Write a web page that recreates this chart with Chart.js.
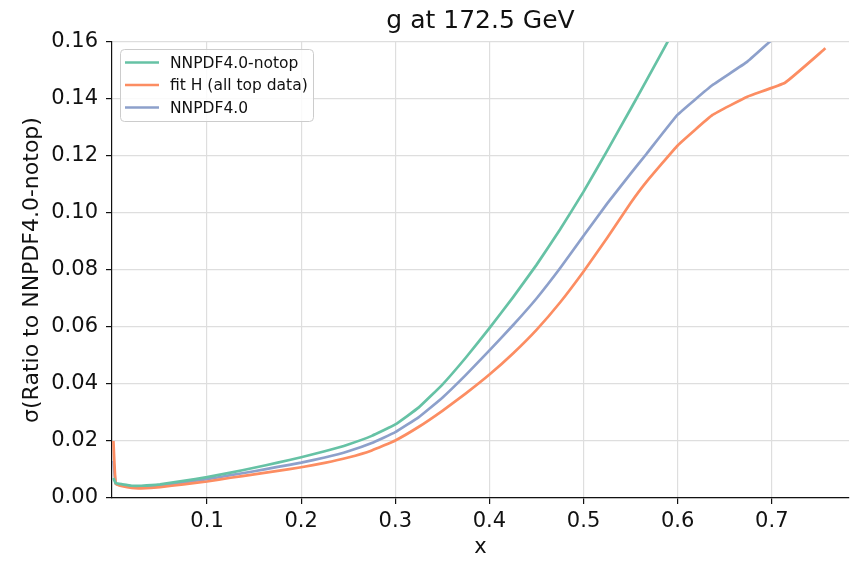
<!DOCTYPE html>
<html>
<head>
<meta charset="utf-8">
<title>g at 172.5 GeV</title>
<script src="https://cdn.jsdelivr.net/npm/chart.js@4/dist/chart.umd.min.js"></script>
<style>
  html, body { margin: 0; padding: 0; background: #fff; }
  #wrap { width: 850px; height: 562px; }
</style>
</head>
<body>
<div id="wrap"><canvas id="sigma"></canvas></div>
<script>
// x grid shared by all three fits
const xs = [0.0005, 0.003, 0.01, 0.02, 0.03, 0.05, 0.075, 0.1, 0.125, 0.15, 0.175, 0.2,
    0.225, 0.25, 0.275, 0.3, 0.325, 0.35, 0.375, 0.4, 0.425, 0.45, 0.475, 0.5,
    0.525, 0.55, 0.567, 0.6, 0.637, 0.674, 0.714, 0.757];

// sigma of the ratio to NNPDF4.0-notop
const notop = [0.007, 0.0052, 0.0048, 0.0043, 0.0043, 0.0048, 0.006, 0.0073, 0.0089, 0.0106, 0.0124, 0.0143,
    0.0164, 0.0188, 0.0218, 0.0258, 0.0318, 0.0398, 0.0493, 0.0596, 0.0704, 0.0818, 0.0942, 0.1075,
    0.1218, 0.1365, 0.1466, 0.1665, 0.188, 0.207, 0.227, 0.247];
const fitH = [0.02, 0.0049, 0.0041, 0.0035, 0.0034, 0.0038, 0.0048, 0.0058, 0.0071, 0.0083, 0.0095, 0.0108,
    0.0123, 0.0142, 0.0167, 0.0202, 0.025, 0.0306, 0.0367, 0.0433, 0.0507, 0.059, 0.0686, 0.0795,
    0.0912, 0.1035, 0.111, 0.1237, 0.1344, 0.1408, 0.1457, 0.1578];
const nnpdf40 = [0.013, 0.005, 0.0045, 0.0039, 0.0039, 0.0044, 0.0055, 0.0066, 0.008, 0.0094, 0.0109, 0.0124,
    0.0142, 0.0164, 0.0193, 0.0231, 0.0284, 0.0352, 0.0432, 0.0518, 0.0606, 0.07, 0.0806, 0.092,
    0.1033, 0.1138, 0.1208, 0.1345, 0.1449, 0.1531, 0.165, 0.18];

const xTicks = [0.1, 0.2, 0.3, 0.4, 0.5, 0.6, 0.7];

const FONT = "'DejaVu Sans', sans-serif";
const GRID = '#dedede';

const toPoints = ys => xs.map((x, i) => ({ x, y: ys[i] }));

const series = [
    { label: 'NNPDF4.0-notop', data: toPoints(notop), color: '#66c2a5' },
    { label: 'fit H (all top data)', data: toPoints(fitH), color: '#fc8d62' },
    { label: 'NNPDF4.0', data: toPoints(nnpdf40), color: '#8da0cb' }
];

// boxed legend in the upper left corner of the plot
const boxLegend = {
    id: 'boxLegend',
    afterDatasetsDraw(chart) {
        const { ctx, chartArea } = chart;
        const x0 = chartArea.left + 8, y0 = chartArea.top + 7;
        const w = 193, h = 72;
        ctx.save();
        ctx.beginPath();
        ctx.roundRect(x0 + 0.5, y0 + 0.5, w, h, 4);
        ctx.fillStyle = 'rgba(255,255,255,0.85)';
        ctx.fill();
        ctx.strokeStyle = '#cccccc';
        ctx.lineWidth = 1;
        ctx.stroke();
        ctx.font = '15.5px ' + FONT;
        ctx.textBaseline = 'middle';
        chart.data.datasets.forEach((ds, i) => {
            const y = y0 + 13.5 + i * 22.5;
            ctx.strokeStyle = ds.borderColor;
            ctx.lineWidth = 2.6;
            ctx.beginPath();
            ctx.moveTo(x0 + 5, y);
            ctx.lineTo(x0 + 39, y);
            ctx.stroke();
            ctx.fillStyle = '#111';
            ctx.fillText(ds.label, x0 + 50, y + 1);
        });
        ctx.restore();
    }
};

new Chart(document.getElementById('sigma'), {
    type: 'line',
    data: {
        datasets: series.map(s => ({
            label: s.label,
            data: s.data,
            borderColor: s.color,
            backgroundColor: s.color,
            borderWidth: 2.7,
            pointRadius: 0,
            tension: 0.1
        }))
    },
    options: {
        responsive: true,
        maintainAspectRatio: false,
        animation: false,
        layout: { padding: { left: 0, right: 1, top: 0, bottom: 0 } },
        plugins: {
            legend: { display: false },
            tooltip: { enabled: false },
            title: {
                display: true,
                text: 'g at 172.5 GeV',
                fullSize: false,
                color: '#111',
                font: { family: FONT, size: 25, weight: 'normal' },
                padding: { top: 6, bottom: 6 }
            }
        },
        scales: {
            x: {
                type: 'linear',
                min: -0.001,
                max: 0.782,
                afterBuildTicks: axis => { axis.ticks = xTicks.map(v => ({ value: v })); },
                afterFit: axis => { axis.height = 64; },
                ticks: {
                    color: '#111',
                    padding: 5,
                    font: { family: FONT, size: 21 },
                    callback: v => v.toFixed(1)
                },
                grid: { color: GRID, lineWidth: 1.2, tickColor: '#111', tickLength: 6 },
                border: { color: '#111', width: 1.2 },
                title: {
                    display: true,
                    text: 'x',
                    color: '#111',
                    font: { family: FONT, size: 21 },
                    padding: { top: 0, bottom: 2 }
                }
            },
            y: {
                min: 0,
                max: 0.16,
                afterFit: axis => { axis.width = 112; },
                ticks: {
                    stepSize: 0.02,
                    color: '#111',
                    padding: 8,
                    font: { family: FONT, size: 21 },
                    callback: v => v.toFixed(2)
                },
                grid: { color: GRID, lineWidth: 1.2, tickColor: '#111', tickLength: 6 },
                border: { color: '#111', width: 1.2 },
                title: {
                    display: true,
                    text: 'σ(Ratio to NNPDF4.0-notop)',
                    color: '#111',
                    font: { family: FONT, size: 22 },
                    padding: { top: 19, bottom: 0 }
                }
            }
        }
    },
    plugins: [boxLegend]
});
</script>
</body>
</html>
